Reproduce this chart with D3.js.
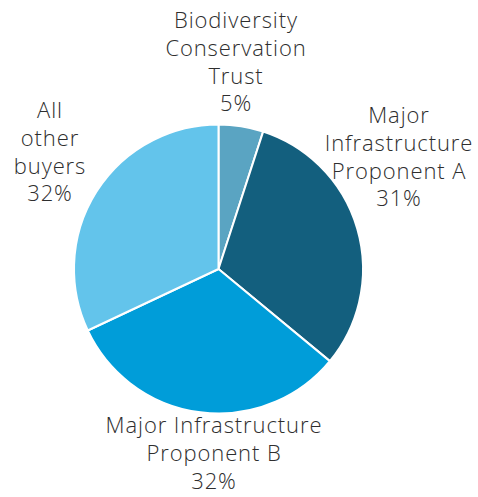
<!DOCTYPE html>
<html>
<head>
<meta charset="utf-8">
<script src="https://cdn.jsdelivr.net/npm/d3@7"></script>
<style>
  html, body { margin: 0; padding: 0; background: #fff; }
  svg { display: block; }
  text { font-family: "Open Sans", Lato, sans-serif; font-weight: 300; fill: #2e2e2e; }
</style>
</head>
<body>
<svg id="chart" width="478" height="497"></svg>
<script>
// Buyer share of purchases
const buyers = [
  ["Biodiversity", "Conservation", "Trust"],
  ["Major", "Infrastructure", "Proponent A"],
  ["Major Infrastructure", "Proponent B"],
  ["All", "other", "buyers"]
];
const shares = [5, 31, 32, 32];
const colors = ["#5aa4c2", "#135f7e", "#009dd9", "#63c4eb"];

// Label anchors (centre x, first baseline y) per slice
const labelAnchors = [[236, 28], [399, 123], [214, 433], [50, 118]];

const W = 478, H = 497;
const cx = 218.5, cy = 269, R = 144.5;
const lineH = 27.8;

const svg = d3.select("#chart");
const g = svg.append("g").attr("transform", `translate(${cx},${cy})`);

const pie = d3.pie().sort(null).value(d => d)(shares);
const arc = d3.arc().innerRadius(0).outerRadius(R);

g.selectAll("path")
  .data(pie)
  .join("path")
  .attr("d", arc)
  .attr("fill", (d, i) => colors[i])
  .attr("stroke", "#fff")
  .attr("stroke-width", 2)
  .attr("stroke-linejoin", "round");

const labels = svg.selectAll("text.lbl")
  .data(pie)
  .join("text")
  .attr("class", "lbl")
  .attr("text-anchor", "middle")
  .attr("font-size", 22)
  .attr("letter-spacing", 0.9)
  .attr("x", (d, i) => labelAnchors[i][0])
  .attr("y", (d, i) => labelAnchors[i][1]);

labels.each(function(d, i) {
  const t = d3.select(this);
  const lines = buyers[i].concat([d.data + "%"]);
  lines.forEach((s, k) => {
    t.append("tspan")
      .attr("x", labelAnchors[i][0])
      .attr("dy", k === 0 ? 0 : lineH)
      .text(s);
  });
});
</script>
</body>
</html>
